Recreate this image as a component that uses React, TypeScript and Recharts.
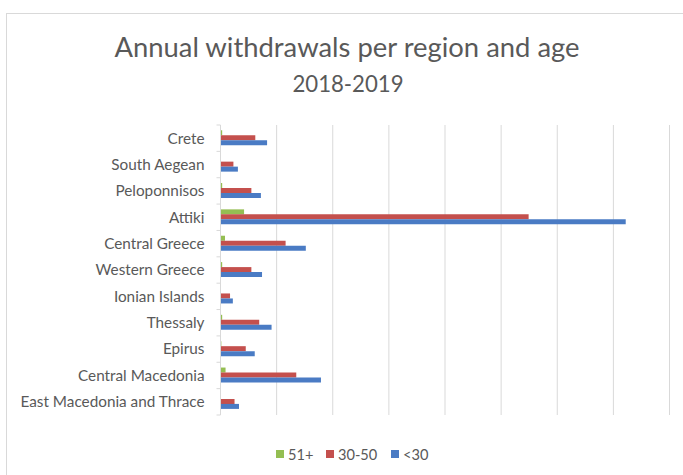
import React from "react";
import { BarChart, Bar, XAxis, YAxis, CartesianGrid } from "recharts";

const regions = [
  "Crete",
  "South Aegean",
  "Peloponnisos",
  "Attiki",
  "Central Greece",
  "Western Greece",
  "Ionian Islands",
  "Thessaly",
  "Epirus",
  "Central Macedonia",
  "East Macedonia and Thrace",
];
const age51plus = [30, 0, 30, 420, 80, 30, 0, 30, 15, 90, 0];
const age30to50 = [620, 230, 550, 5490, 1160, 550, 170, 690, 450, 1350, 250];
const ageUnder30 = [830, 310, 720, 7220, 1520, 740, 220, 910, 610, 1790, 330];
const xTicks = [0, 1000, 2000, 3000, 4000, 5000, 6000, 7000, 8000];

const seriesNames = ["51+", "30-50", "<30"];
const colors = ["#94BE52", "#C4504D", "#4A7BC4"];
const legendLeft = [276, 326, 391];

const data = regions.map((r, i) => ({
  region: r,
  s51: age51plus[i],
  s30: age30to50[i],
  s0: ageUnder30[i],
}));

const FONT = "Lato, 'Open Sans', sans-serif";
const TEXT = "#595959";
const GRID = "#d9d9d9";

const PLOT_TOP = 125;
const PLOT_BOTTOM = 415;
const BAND = (PLOT_BOTTOM - PLOT_TOP) / regions.length;

const RegionTick = (props: any) => {
  const { x, y, payload, index } = props;
  return (
    <g>
      <line x1={x - 4} x2={x} y1={y - BAND / 2} y2={y - BAND / 2} stroke={GRID} />
      {index === regions.length - 1 && (
        <line x1={x - 4} x2={x} y1={y + BAND / 2} y2={y + BAND / 2} stroke={GRID} />
      )}
      <text
        x={x - 16}
        y={y}
        dy="0.35em"
        textAnchor="end"
        fill={TEXT}
        fontSize={15.3}
        fontFamily={FONT}
      >
        {payload.value}
      </text>
    </g>
  );
};

export default function App() {
  return (
    <div
      style={{
        position: "absolute",
        left: 0,
        top: 0,
        width: 683,
        height: 475,
        background: "#fff",
        overflow: "hidden",
      }}
    >
      <div
        style={{
          position: "absolute",
          left: 6,
          top: 13,
          width: 700,
          height: 500,
          borderLeft: `1px solid ${GRID}`,
          borderTop: `1px solid ${GRID}`,
        }}
      />
      <div
        style={{
          position: "absolute",
          left: 0,
          top: 30,
          width: 694,
          textAlign: "center",
          fontFamily: FONT,
          fontSize: 27.4,
          color: TEXT,
          lineHeight: "33px",
          whiteSpace: "nowrap",
        }}
      >
        Annual withdrawals per region and age
      </div>
      <div
        style={{
          position: "absolute",
          left: 0,
          top: 70,
          width: 696,
          textAlign: "center",
          fontFamily: FONT,
          fontSize: 22.2,
          color: TEXT,
          lineHeight: "27px",
        }}
      >
        2018-2019
      </div>
      <div style={{ position: "absolute", left: 0, top: 0 }}>
        <BarChart
          width={683}
          height={475}
          data={data}
          layout="vertical"
          margin={{ top: PLOT_TOP, right: 13.5, bottom: 475 - PLOT_BOTTOM, left: 0 }}
          barCategoryGap="20%"
          barGap={0}
        >
          <CartesianGrid horizontal={false} vertical stroke={GRID} strokeWidth={1} />
          <XAxis type="number" domain={[0, 8000]} ticks={xTicks} hide />
          <YAxis
            type="category"
            dataKey="region"
            width={220.5}
            axisLine={{ stroke: GRID }}
            tickLine={false}
            tickSize={0}
            tickMargin={0}
            tick={<RegionTick />}
            interval={0}
          />
          <Bar dataKey="s51" name={seriesNames[0]} fill={colors[0]} isAnimationActive={false} />
          <Bar dataKey="s30" name={seriesNames[1]} fill={colors[1]} isAnimationActive={false} />
          <Bar dataKey="s0" name={seriesNames[2]} fill={colors[2]} isAnimationActive={false} />
        </BarChart>
      </div>
      {seriesNames.map((name, i) => (
        <div
          key={name}
          style={{
            position: "absolute",
            left: legendLeft[i],
            top: 444,
            height: 20,
            display: "flex",
            alignItems: "center",
            gap: 4,
            fontFamily: FONT,
            fontSize: 14.6,
            color: TEXT,
          }}
        >
          <span style={{ width: 8, height: 8, background: colors[i], display: "inline-block" }} />
          <span>{name}</span>
        </div>
      ))}
    </div>
  );
}
